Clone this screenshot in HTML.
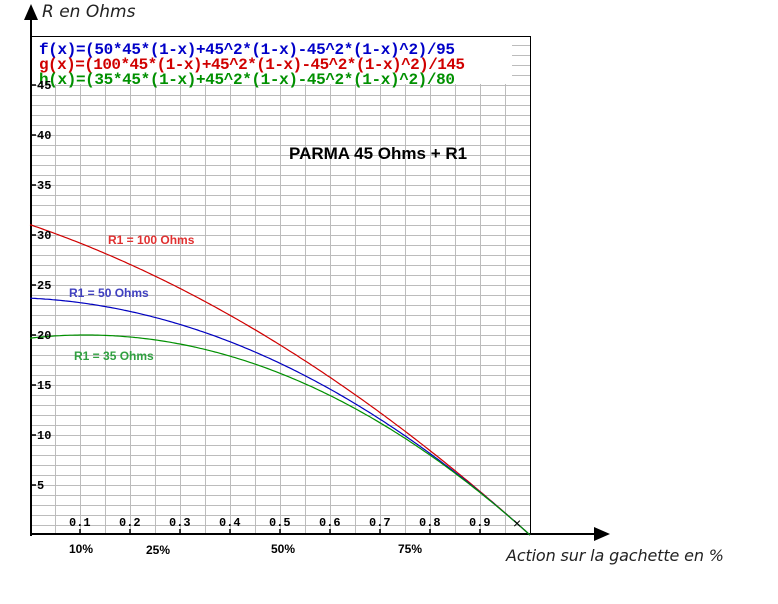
<!DOCTYPE html>
<html><head><meta charset="utf-8"><style>
body{margin:0;background:#fff;width:778px;height:604px;overflow:hidden}
svg{display:block}
</style></head><body>
<svg id="s" width="778" height="604" xmlns="http://www.w3.org/2000/svg" font-family="Liberation Sans, sans-serif">
<g id="grid" stroke="#bcbcbc" stroke-width="1"></g>
<rect x="32" y="37" width="480" height="47" fill="#fff"/>
<line x1="30" y1="36.5" x2="530" y2="36.5" stroke="#000"/>
<line x1="530.5" y1="36" x2="530.5" y2="535" stroke="#000"/>
<line x1="31" y1="20" x2="31" y2="536" stroke="#000" stroke-width="2"/>
<polygon points="31,4 24,20 38,20" fill="#000"/>
<line x1="30" y1="534" x2="596" y2="534" stroke="#000" stroke-width="2"/>
<polygon points="610,534 594,527 594,541" fill="#000"/>
<g id="ticks" stroke="#000" stroke-width="1.5"></g>
<g id="curves" fill="none" stroke-width="1.2"></g>
<text x="42" y="17" font-family="DejaVu Sans, sans-serif" font-style="italic" font-size="17" fill="#222">R en Ohms</text>
<text x="506" y="561" font-family="DejaVu Sans, sans-serif" font-style="italic" font-size="16" fill="#222" textLength="218">Action sur la gachette en %</text>
<g font-family="Liberation Mono, monospace" font-weight="bold" font-size="16">
<text x="39" y="54" fill="#0000c8" textLength="416">f(x)=(50*45*(1-x)+45^2*(1-x)-45^2*(1-x)^2)/95</text>
<text x="39" y="69" fill="#d00000" textLength="426">g(x)=(100*45*(1-x)+45^2*(1-x)-45^2*(1-x)^2)/145</text>
<text x="39" y="84" fill="#009000" textLength="416">h(x)=(35*45*(1-x)+45^2*(1-x)-45^2*(1-x)^2)/80</text>
</g>
<g id="lbl" font-family="Liberation Mono, monospace" font-weight="bold" font-size="12" fill="#000"></g>
<text x="289" y="159" font-weight="bold" font-size="17" fill="#000">PARMA 45 Ohms + R1</text>
<text x="108" y="244" font-weight="bold" font-size="12" fill="#e03030">R1 = 100 Ohms</text>
<text x="69" y="297" font-weight="bold" font-size="12" fill="#4040c0">R1 = 50 Ohms</text>
<text x="74" y="360" font-weight="bold" font-size="12" fill="#30a040">R1 = 35 Ohms</text>
<g font-weight="bold" font-size="12" fill="#000">
<text x="69" y="553">10%</text><text x="146" y="554">25%</text><text x="271" y="553">50%</text><text x="398" y="553">75%</text>
</g>
<text x="513" y="528" font-size="14" fill="#000">×</text>
</svg>
<script>
var NS="http://www.w3.org/2000/svg";
function el(p,t,a){var e=document.createElementNS(NS,t);for(var k in a)e.setAttribute(k,a[k]);document.getElementById(p).appendChild(e);return e;}
for(var x=55;x<530;x+=25)el("grid","line",{x1:x+.5,y1:37,x2:x+.5,y2:534});
for(var y=45;y<=525;y+=10)el("grid","line",{x1:31,y1:y+.5,x2:530,y2:y+.5});
for(var i=1;i<=9;i++){var X=30+50*i;el("ticks","line",{x1:X,y1:534,x2:X,y2:529});
 var t=el("lbl","text",{x:X-11,y:526});t.textContent="0."+i;}
for(var v=5;v<=45;v+=5){var Y=535-10*v;el("ticks","line",{x1:31,y1:Y,x2:36,y2:Y});
 var t=el("lbl","text",{x:37,y:Y+4});t.textContent=v;}
function mk(r,d,c){var p="";for(var x=0;x<=1.0001;x+=0.005){var u=1-x;var R=(r*45*u+2025*u-2025*u*u)/d;p+=(p?"L":"M")+(30+500*x).toFixed(1)+","+(535-10*R).toFixed(1);}
 el("curves","path",{d:p,stroke:c});}
mk(100,145,"#d00000");mk(50,95,"#0000c0");mk(35,80,"#009000");
</script>
</body></html>
